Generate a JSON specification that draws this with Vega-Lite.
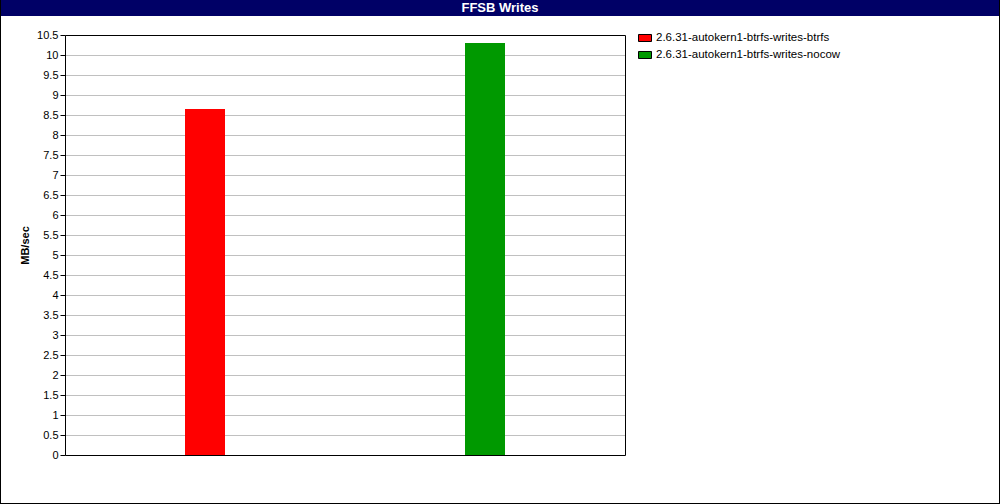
{
  "$schema": "https://vega.github.io/schema/vega-lite/v6.json",
  "description": "FFSB Writes bar chart",
  "padding": 0,
  "background": "white",
  "spacing": 0,
  "hconcat": [
    {
      "width": 1,
      "height": 504,
      "view": {"fill": "black", "stroke": null},
      "data": {"values": []},
      "mark": "text"
    },
    {
      "spacing": 13,
      "vconcat": [
        {
          "width": 998,
          "height": 16,
          "view": {"fill": "#000066", "stroke": null},
          "data": {"values": [{"label": "FFSB Writes"}]},
          "mark": {"type": "text", "color": "white", "fontWeight": "bold", "fontSize": 13, "align": "center", "baseline": "middle"},
          "encoding": {"text": {"field": "label", "type": "nominal"}}
        },
        {
          "spacing": 0,
          "hconcat": [
            {
              "width": 18,
              "height": 455,
              "view": {"stroke": null},
              "data": {"values": []},
              "mark": "text"
            },
            {
              "width": 560,
              "height": 420,
              "view": {"stroke": null, "fill": "white"},
              "data": {
                "values": [
                  {"run": "2.6.31-autokern1-btrfs-writes-btrfs", "mbps": 8.65},
                  {"run": "2.6.31-autokern1-btrfs-writes-nocow", "mbps": 10.3}
                ]
              },
              "encoding": {
                "x": {
                  "field": "run",
                  "type": "nominal",
                  "sort": null,
                  "axis": null,
                  "scale": {"paddingInner": 0, "paddingOuter": 0}
                },
                "color": {
                  "field": "run",
                  "type": "nominal",
                  "scale": {"range": ["#ff0000", "#009900"]},
                  "legend": {
                    "title": null,
                    "orient": "none",
                    "legendX": 638,
                    "legendY": 31,
                    "padding": 0,
                    "symbolType": "M-1,-0.54H1V0.54H-1Z",
                    "symbolSize": 169,
                    "symbolStrokeColor": "black",
                    "symbolStrokeWidth": 1,
                    "symbolOpacity": 1,
                    "labelFontSize": 11.5,
                    "labelColor": "black",
                    "labelOffset": 4,
                    "labelLimit": 400,
                    "rowPadding": 4
                  }
                }
              },
              "layer": [
                {
                  "mark": {"type": "bar", "width": {"band": 0.142857}},
                  "encoding": {
                    "y": {
                      "field": "mbps",
                      "type": "quantitative",
                      "scale": {"domain": [0, 10.5], "nice": false},
                      "axis": {
                        "orient": "left",
                        "title": "MB/sec",
                        "values": [0, 0.5, 1, 1.5, 2, 2.5, 3, 3.5, 4, 4.5, 5, 5.5, 6, 6.5, 7, 7.5, 8, 8.5, 9, 9.5, 10, 10.5],
                        "format": "~g",
                        "grid": true,
                        "gridColor": {
                          "condition": {"test": "datum.value === 0 || datum.value === 10.5", "value": "black"},
                          "value": "#c0c0c0"
                        },
                        "domainColor": "black",
                        "tickColor": "black",
                        "tickSize": 5,
                        "labelPadding": 2,
                        "labelFontSize": 11,
                        "labelColor": "black",
                        "labelOverlap": false,
                        "titleFontSize": 11,
                        "titleColor": "black",
                        "titlePadding": 6
                      }
                    }
                  }
                },
                {
                  "mark": {"type": "bar", "width": {"band": 0.142857}},
                  "encoding": {
                    "y": {
                      "field": "mbps",
                      "type": "quantitative",
                      "scale": {"domain": [0, 10.5], "nice": false},
                      "axis": {
                        "orient": "right",
                        "title": null,
                        "labels": false,
                        "ticks": false,
                        "grid": false,
                        "domain": true,
                        "domainColor": "black"
                      }
                    }
                  }
                }
              ],
              "resolve": {"axis": {"y": "independent"}}
            }
          ]
        },
        {
          "width": 998,
          "height": 1,
          "view": {"fill": "black", "stroke": null},
          "data": {"values": []},
          "mark": "text"
        }
      ]
    },
    {
      "width": 1,
      "height": 504,
      "view": {"fill": "black", "stroke": null},
      "data": {"values": []},
      "mark": "text"
    }
  ],
  "config": {
    "font": "Liberation Sans",
    "view": {"stroke": null}
  }
}
